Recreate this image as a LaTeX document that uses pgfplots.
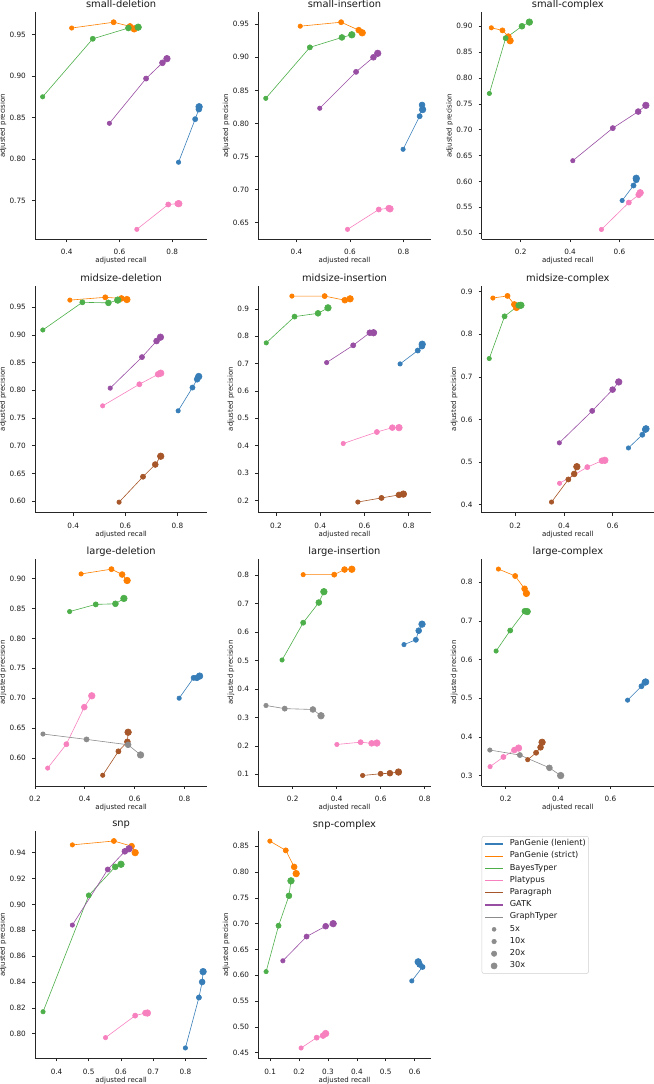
\documentclass[border=0pt]{standalone}
\usepackage{fontspec}
\setmainfont{DejaVu Sans}
\usepackage{pgfplots}
\pgfplotsset{compat=1.18}
\definecolor{cPL}{HTML}{377EB8}
\definecolor{cPS}{HTML}{FF7F00}
\definecolor{cBT}{HTML}{4DAF4A}
\definecolor{cPY}{HTML}{F781BF}
\definecolor{cPG}{HTML}{A65628}
\definecolor{cGK}{HTML}{984EA3}
\definecolor{cGT}{HTML}{8C8C8C}
\pgfplotsset{
  panel/.style={
    scale only axis, width=172.3bp, height=227bp, anchor=south west,
    axis x line*=bottom, axis y line*=left,
    axis line style={black!85, line width=0.6bp},
    tick align=outside, major tick length=3bp,
    tick style={black!85, line width=0.6bp},
    every tick label/.append style={font=\fontsize{7.3bp}{8bp}\selectfont, text=black!90},
    /pgf/number format/assume math mode=true,
    /pgf/number format/fixed, /pgf/number format/fixed zerofill,
    xticklabel style={/pgf/number format/precision=1, anchor=base, inner sep=0pt, yshift=-12.7bp},
    yticklabel style={anchor=east, inner sep=0pt, xshift=-6bp},
    xlabel={adjusted recall}, ylabel={adjusted precision},
    every axis label/.append style={font=\fontsize{7bp}{8bp}\selectfont, text=black!90},
    xlabel style={at={(axis description cs:0.5,0)}, anchor=base, inner sep=0pt, yshift=-23.7bp},
    ylabel style={inner sep=0pt, anchor=south, yshift=3bp},
    every axis title shift=0pt,
    title style={font=\fontsize{9.9bp}{11bp}\selectfont, text=black!90, at={(0.5,1)}, anchor=base, yshift=4.3bp},
    clip=false,
  },
  y2/.style={yticklabel style={/pgf/number format/precision=2}},
  y1/.style={yticklabel style={/pgf/number format/precision=1}},
  ser/.style={color=#1, line width=0.6bp, mark=*, scatter,
    scatter/use mapped color={draw=#1, fill=#1},
    visualization depends on={\coordindex \as \ci},
    scatter/@pre marker code/.append style={/tikz/mark size=2.2bp+0.37bp*\ci, /tikz/line width=0.2bp}},
}
\begin{document}
\begin{tikzpicture}
\useasboundingbox (0,0) rectangle (654bp,1084bp);
% row 1
\begin{axis}[panel, y2, at={(35bp,844.7bp)}, title={small-deletion},
  xmin=0.28, xmax=0.933, ymin=0.703, ymax=0.977,
  xtick={0.4,0.6,0.8}, ytick={0.75,0.8,0.85,0.9,0.95}]
\addplot[ser=cPL] coordinates {(0.824,0.796) (0.887,0.848) (0.901,0.860) (0.902,0.863)};
\addplot[ser=cPS] coordinates {(0.419,0.958) (0.578,0.965) (0.640,0.960) (0.656,0.957)};
\addplot[ser=cBT] coordinates {(0.309,0.875) (0.499,0.945) (0.634,0.958) (0.671,0.959)};
\addplot[ser=cPY] coordinates {(0.666,0.715) (0.785,0.745) (0.821,0.746) (0.825,0.746)};
\addplot[ser=cGK] coordinates {(0.562,0.843) (0.701,0.897) (0.763,0.916) (0.780,0.921)};
\end{axis}
\begin{axis}[panel, y2, at={(258.3bp,844.7bp)}, title={small-insertion},
  xmin=0.257, xmax=0.902, ymin=0.625, ymax=0.968,
  xtick={0.4,0.6,0.8}, ytick={0.65,0.7,0.75,0.8,0.85,0.9,0.95}]
\addplot[ser=cPL] coordinates {(0.799,0.761) (0.861,0.811) (0.870,0.828) (0.872,0.821)};
\addplot[ser=cPS] coordinates {(0.414,0.947) (0.567,0.953) (0.633,0.941) (0.646,0.937)};
\addplot[ser=cBT] coordinates {(0.285,0.838) (0.450,0.915) (0.570,0.930) (0.607,0.934)};
\addplot[ser=cPY] coordinates {(0.591,0.640) (0.708,0.670) (0.745,0.672) (0.750,0.671)};
\addplot[ser=cGK] coordinates {(0.487,0.823) (0.623,0.878) (0.688,0.900) (0.704,0.906)};
\end{axis}
\begin{axis}[panel, y2, at={(481.7bp,844.7bp)}, title={small-complex},
  xmin=0.042, xmax=0.74, ymin=0.488, ymax=0.927,
  xtick={0.2,0.4,0.6}, ytick={0.5,0.55,0.6,0.65,0.7,0.75,0.8,0.85,0.9}]
\addplot[ser=cPL] coordinates {(0.611,0.563) (0.657,0.592) (0.668,0.603) (0.668,0.606)};
\addplot[ser=cPS] coordinates {(0.081,0.897) (0.126,0.892) (0.150,0.880) (0.157,0.872)};
\addplot[ser=cBT] coordinates {(0.073,0.770) (0.139,0.877) (0.205,0.900) (0.235,0.908)};
\addplot[ser=cPY] coordinates {(0.527,0.507) (0.638,0.559) (0.678,0.574) (0.684,0.578)};
\addplot[ser=cGK] coordinates {(0.411,0.640) (0.573,0.703) (0.676,0.735) (0.707,0.747)};
\end{axis}
% row 2
\begin{axis}[panel, y2, at={(35bp,571.3bp)}, title={midsize-deletion},
  xmin=0.253, xmax=0.915, ymin=0.579, ymax=0.989,
  xtick={0.4,0.6,0.8}, ytick={0.6,0.65,0.7,0.75,0.8,0.85,0.9,0.95}]
\addplot[ser=cPL] coordinates {(0.803,0.763) (0.858,0.805) (0.876,0.820) (0.882,0.825)};
\addplot[ser=cPS] coordinates {(0.387,0.963) (0.523,0.968) (0.585,0.966) (0.606,0.964)};
\addplot[ser=cBT] coordinates {(0.283,0.909) (0.435,0.959) (0.535,0.958) (0.571,0.963)};
\addplot[ser=cPY] coordinates {(0.513,0.772) (0.654,0.811) (0.726,0.829) (0.736,0.831)};
\addplot[ser=cPG] coordinates {(0.576,0.598) (0.668,0.644) (0.715,0.666) (0.736,0.681)};
\addplot[ser=cGK] coordinates {(0.542,0.804) (0.664,0.860) (0.720,0.889) (0.735,0.896)};
\end{axis}
\begin{axis}[panel, y1, at={(258.3bp,571.3bp)}, title={midsize-insertion},
  xmin=0.120, xmax=0.899, ymin=0.155, ymax=0.985,
  xtick={0.2,0.4,0.6,0.8}, ytick={0.2,0.3,0.4,0.5,0.6,0.7,0.8,0.9}]
\addplot[ser=cPL] coordinates {(0.761,0.699) (0.841,0.748) (0.860,0.764) (0.861,0.771)};
\addplot[ser=cPS] coordinates {(0.272,0.947) (0.420,0.947) (0.511,0.932) (0.535,0.937)};
\addplot[ser=cBT] coordinates {(0.156,0.776) (0.284,0.872) (0.390,0.884) (0.435,0.904)};
\addplot[ser=cPY] coordinates {(0.504,0.408) (0.656,0.450) (0.726,0.466) (0.756,0.466)};
\addplot[ser=cPG] coordinates {(0.570,0.194) (0.677,0.209) (0.756,0.220) (0.776,0.223)};
\addplot[ser=cGK] coordinates {(0.429,0.704) (0.549,0.767) (0.624,0.813) (0.641,0.813)};
\end{axis}
\begin{axis}[panel, y1, at={(481.7bp,571.3bp)}, title={midsize-complex},
  xmin=0.062, xmax=0.770, ymin=0.381, ymax=0.914,
  xtick={0.2,0.4,0.6}, ytick={0.4,0.5,0.6,0.7,0.8,0.9}]
\addplot[ser=cPL] coordinates {(0.665,0.533) (0.722,0.564) (0.734,0.576) (0.737,0.578)};
\addplot[ser=cPS] coordinates {(0.108,0.885) (0.168,0.890) (0.196,0.870) (0.205,0.863)};
\addplot[ser=cBT] coordinates {(0.093,0.743) (0.156,0.842) (0.214,0.868) (0.223,0.868)};
\addplot[ser=cPY] coordinates {(0.382,0.450) (0.496,0.488) (0.556,0.503) (0.568,0.504)};
\addplot[ser=cPG] coordinates {(0.349,0.406) (0.418,0.459) (0.442,0.472) (0.453,0.489)};
\addplot[ser=cGK] coordinates {(0.381,0.545) (0.516,0.620) (0.600,0.670) (0.625,0.688)};
\end{axis}
% row 3
\begin{axis}[panel, y2, at={(35bp,298bp)}, title={large-deletion},
  xmin=0.2, xmax=0.892, ymin=0.553, ymax=0.933,
  xtick={0.2,0.4,0.6,0.8}, ytick={0.6,0.65,0.7,0.75,0.8,0.85,0.9}]
\addplot[ser=cPL] coordinates {(0.779,0.700) (0.837,0.734) (0.850,0.734) (0.861,0.737)};
\addplot[ser=cPS] coordinates {(0.385,0.908) (0.507,0.916) (0.550,0.907) (0.570,0.897)};
\addplot[ser=cBT] coordinates {(0.339,0.845) (0.444,0.857) (0.523,0.858) (0.557,0.867)};
\addplot[ser=cPY] coordinates {(0.251,0.583) (0.326,0.623) (0.398,0.685) (0.428,0.704)};
\addplot[ser=cPG] coordinates {(0.472,0.571) (0.535,0.611) (0.571,0.627) (0.574,0.643)};
\addplot[ser=cGT] coordinates {(0.232,0.640) (0.407,0.631) (0.574,0.622) (0.624,0.605)};
\end{axis}
\begin{axis}[panel, y1, at={(258.3bp,298bp)}, title={large-insertion},
  xmin=0.044, xmax=0.827, ymin=0.059, ymax=0.857,
  xtick={0.2,0.4,0.6,0.8}, ytick={0.1,0.2,0.3,0.4,0.5,0.6,0.7,0.8}]
\addplot[ser=cPL] coordinates {(0.706,0.556) (0.760,0.573) (0.773,0.605) (0.788,0.628)};
\addplot[ser=cPS] coordinates {(0.248,0.802) (0.389,0.802) (0.436,0.820) (0.469,0.821)};
\addplot[ser=cBT] coordinates {(0.152,0.502) (0.248,0.633) (0.319,0.704) (0.342,0.742)};
\addplot[ser=cPY] coordinates {(0.401,0.205) (0.509,0.213) (0.559,0.209) (0.583,0.210)};
\addplot[ser=cPG] coordinates {(0.518,0.096) (0.600,0.102) (0.642,0.104) (0.681,0.108)};
\addplot[ser=cGT] coordinates {(0.079,0.342) (0.164,0.331) (0.292,0.328) (0.329,0.306)};
\end{axis}
\begin{axis}[panel, y1, at={(481.7bp,298bp)}, title={large-complex},
  xmin=0.108, xmax=0.767, ymin=0.273, ymax=0.860,
  xtick={0.2,0.4,0.6}, ytick={0.3,0.4,0.5,0.6,0.7,0.8}]
\addplot[ser=cPL] coordinates {(0.666,0.495) (0.719,0.531) (0.732,0.541) (0.735,0.542)};
\addplot[ser=cPS] coordinates {(0.172,0.834) (0.236,0.816) (0.272,0.783) (0.279,0.771)};
\addplot[ser=cBT] coordinates {(0.163,0.622) (0.217,0.675) (0.273,0.725) (0.282,0.724)};
\addplot[ser=cPY] coordinates {(0.140,0.323) (0.191,0.348) (0.233,0.366) (0.249,0.371)};
\addplot[ser=cPG] coordinates {(0.284,0.341) (0.316,0.359) (0.333,0.373) (0.339,0.386)};
\addplot[ser=cGT] coordinates {(0.139,0.366) (0.254,0.353) (0.367,0.320) (0.410,0.300)};
\end{axis}
% row 4
\begin{axis}[panel, y2, at={(35bp,25.7bp)}, title={snp},
  xmin=0.333, xmax=0.868, ymin=0.781, ymax=0.9565,
  xtick={0.4,0.5,0.6,0.7,0.8}, ytick={0.8,0.82,0.84,0.86,0.88,0.9,0.92,0.94}]
\addplot[ser=cPL] coordinates {(0.800,0.789) (0.842,0.828) (0.852,0.840) (0.855,0.848)};
\addplot[ser=cPS] coordinates {(0.449,0.946) (0.578,0.949) (0.633,0.945) (0.644,0.940)};
\addplot[ser=cBT] coordinates {(0.358,0.817) (0.500,0.907) (0.582,0.929) (0.600,0.931)};
\addplot[ser=cPY] coordinates {(0.552,0.797) (0.644,0.814) (0.676,0.816) (0.682,0.816)};
\addplot[ser=cGK] coordinates {(0.449,0.884) (0.559,0.927) (0.612,0.941) (0.625,0.943)};
\end{axis}
\begin{axis}[panel, y2, at={(258.3bp,25.7bp)}, title={snp-complex},
  xmin=0.059, xmax=0.655, ymin=0.439, ymax=0.879,
  xtick={0.1,0.2,0.3,0.4,0.5,0.6}, ytick={0.45,0.5,0.55,0.6,0.65,0.7,0.75,0.8,0.85}]
\addplot[ser=cPL] coordinates {(0.590,0.589) (0.627,0.616) (0.617,0.621) (0.612,0.626)};
\addplot[ser=cPS] coordinates {(0.099,0.860) (0.154,0.842) (0.183,0.810) (0.190,0.797)};
\addplot[ser=cBT] coordinates {(0.086,0.607) (0.129,0.696) (0.165,0.754) (0.172,0.783)};
\addplot[ser=cPY] coordinates {(0.207,0.459) (0.261,0.479) (0.283,0.483) (0.292,0.487)};
\addplot[ser=cGK] coordinates {(0.144,0.628) (0.226,0.675) (0.292,0.695) (0.318,0.700)};
\end{axis}
% legend
\begin{axis}[at={(481.7bp,25.7bp)}, anchor=south west, scale only axis,
  width=172.3bp, height=227bp, hide axis, xmin=0, xmax=1, ymin=0, ymax=1,
  legend cell align=left,
  legend style={at={(0.0,0.979)}, anchor=north west, draw=black!18, fill=white,
    rounded corners=2bp, line width=0.5bp,
    font=\fontsize{8.2bp}{9bp}\selectfont, text=black!90,
    inner xsep=2.7bp, inner ysep=1.5bp, row sep=0bp,
    nodes={inner sep=0pt, text height=7.8bp, text depth=4.4bp},
    /tikz/every odd column/.style={column sep=6.3bp}}]
\addlegendimage{legend image code/.code={\draw[cPL, line width=1.2bp] (0bp,0bp) -- (17.7bp,0bp);}}
\addlegendimage{legend image code/.code={\draw[cPS, line width=1.2bp] (0bp,0bp) -- (17.7bp,0bp);}}
\addlegendimage{legend image code/.code={\draw[cBT, line width=1.2bp] (0bp,0bp) -- (17.7bp,0bp);}}
\addlegendimage{legend image code/.code={\draw[cPY, line width=1.2bp] (0bp,0bp) -- (17.7bp,0bp);}}
\addlegendimage{legend image code/.code={\draw[cPG, line width=1.2bp] (0bp,0bp) -- (17.7bp,0bp);}}
\addlegendimage{legend image code/.code={\draw[cGK, line width=1.2bp] (0bp,0bp) -- (17.7bp,0bp);}}
\addlegendimage{legend image code/.code={\draw[cGT, line width=1.2bp] (0bp,0bp) -- (17.7bp,0bp);}}
\addlegendimage{legend image code/.code={\fill[cGT] (8.85bp,0bp) circle (2.0bp);}}
\addlegendimage{legend image code/.code={\fill[cGT] (8.85bp,0bp) circle (2.3bp);}}
\addlegendimage{legend image code/.code={\fill[cGT] (8.85bp,0bp) circle (2.7bp);}}
\addlegendimage{legend image code/.code={\fill[cGT] (8.85bp,0bp) circle (3.1bp);}}
\legend{PanGenie (lenient), PanGenie (strict), BayesTyper, Platypus, Paragraph, GATK, GraphTyper, 5x, 10x, 20x, 30x}
\end{axis}
\end{tikzpicture}
\end{document}
